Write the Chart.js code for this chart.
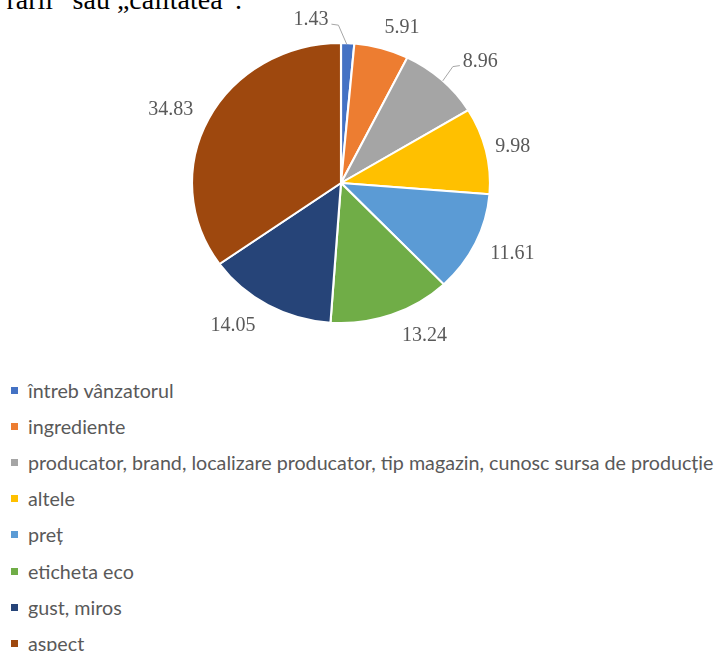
<!DOCTYPE html>
<html>
<head>
<meta charset="utf-8">
<script src="https://cdn.jsdelivr.net/npm/chart.js@4/dist/chart.umd.min.js"></script>
<style>
  body { margin: 0; background: #fff; width: 722px; height: 651px; overflow: hidden; position: relative; }
  #topline { position: absolute; right: 480px; top: -14px; font: 28px "Liberation Serif", serif; line-height: 28px; white-space: nowrap; color: #000; }
  #chartBox { position: absolute; left: 0; top: 0; width: 722px; height: 370px; }
  #legend { position: absolute; left: 0; top: 372px; }
  .item { position: relative; height: 36.2px; display: flex; align-items: center; font: 19.7px Lato, sans-serif; color: #595959; white-space: nowrap; }
  .sw { width: 7px; height: 7px; margin-left: 11px; margin-right: 10px; }
</style>
</head>
<body>
<div id="topline">rării” sau „calitatea”.</div>
<div id="chartBox"><canvas id="pieChart"></canvas></div>
<div id="legend"></div>
<script>
// Categories and shares (%)
const categories = [
  'întreb vânzatorul',
  'ingrediente',
  'producator, brand, localizare producator, tip magazin, cunosc sursa de producție',
  'altele',
  'preț',
  'eticheta eco',
  'gust, miros',
  'aspect'
];
const shares = [1.43, 5.91, 8.96, 9.98, 11.61, 13.24, 14.05, 34.83];
const colors = ['#4472C4', '#ED7D31', '#A5A5A5', '#FFC000', '#5B9BD5', '#70AD47', '#264478', '#9E480E'];

// Horizontal stretch of the pie (reference is slightly oval)
const stretchX = 149 / 140;

// Value labels outside the slices, like Excel "outside end"
const pieLabels = {
  id: 'pieLabels',
  beforeDatasetsDraw(chart) {
    const arc = chart.getDatasetMeta(0).data[0];
    const ctx = chart.ctx;
    ctx.save();
    ctx.translate(arc.x, arc.y);
    ctx.scale(stretchX, 1);
    ctx.translate(-arc.x, -arc.y);
  },
  afterDatasetsDraw(chart, args, opts) {
    const ctx = chart.ctx;
    ctx.restore();
    const meta = chart.getDatasetMeta(0);
    ctx.save();
    ctx.font = '20px "Liberation Serif", serif';
    ctx.fillStyle = '#595959';
    ctx.textAlign = 'center';
    ctx.textBaseline = 'middle';
    meta.data.forEach((el, i) => {
      const p = el.getProps(['x', 'y', 'startAngle', 'endAngle', 'outerRadius']);
      const a = (p.startAngle + p.endAngle) / 2;
      const c = Math.cos(a), s = Math.sin(a);
      const ex = p.x + c * p.outerRadius * stretchX;
      const ey = p.y + s * p.outerRadius;
      const txt = chart.data.datasets[0].data[i].toFixed(2);
      const halfW = ctx.measureText(txt).width / 2;
      const halfH = 8;
      const nudge = opts.nudge[i] || [0, 0];
      const lx = ex + c * 10 + c * halfW + nudge[0];
      const ly = ey + s * 10 + s * halfH + nudge[1];
      if (opts.leader[i]) {
        const side = lx < ex ? 1 : -1;
        const sx = lx + side * (halfW + 3);
        const sy = ly + 4;
        ctx.strokeStyle = '#A6A6A6';
        ctx.lineWidth = 1;
        ctx.beginPath();
        ctx.moveTo(sx, sy);
        ctx.lineTo(sx + side * 7, sy + 1);
        ctx.lineTo(ex - side * 1, ey + 1);
        ctx.stroke();
      }
      ctx.fillText(txt, lx, ly);
    });
    ctx.restore();
  }
};

const ctx = document.getElementById('pieChart').getContext('2d');
const pieChart = new Chart(ctx, {
  type: 'pie',
  data: {
    labels: categories,
    datasets: [{
      data: shares,
      backgroundColor: colors,
      borderColor: '#ffffff',
      borderWidth: 2,
      radius: 140
    }]
  },
  options: {
    responsive: true,
    maintainAspectRatio: false,
    animation: false,
    layout: { padding: { top: 43, bottom: 47, left: 0, right: 40 } },
    plugins: {
      legend: { display: false },
      tooltip: { enabled: false },
      pieLabels: {
        nudge: [[-38, -5], [13, -3], [20, -5], [0, 0], [8, 3], [22, 4], [-19, 5], [-9, -1]],
        leader: [true, false, true, false, false, false, false, false]
      }
    }
  },
  plugins: [pieLabels]
});

// Legend, one item per line
const legend = document.getElementById('legend');
categories.forEach((name, i) => {
  const row = document.createElement('div');
  row.className = 'item';
  const sw = document.createElement('span');
  sw.className = 'sw';
  sw.style.background = colors[i];
  const label = document.createElement('span');
  label.textContent = name;
  row.appendChild(sw);
  row.appendChild(label);
  legend.appendChild(row);
});
</script>
</body>
</html>
